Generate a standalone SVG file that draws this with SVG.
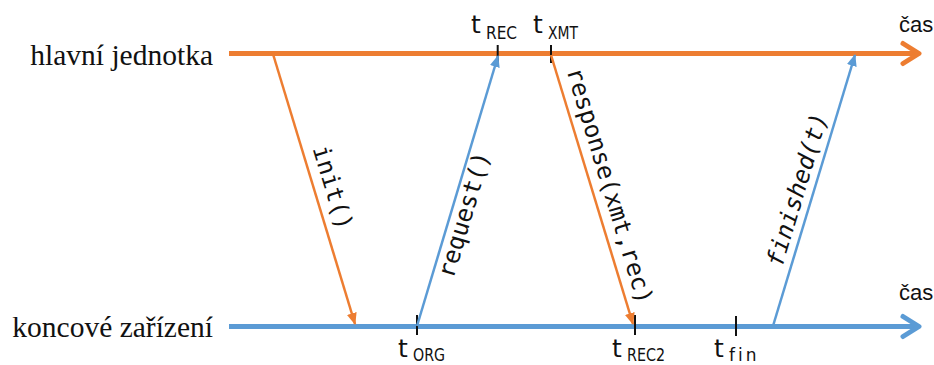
<svg xmlns="http://www.w3.org/2000/svg" width="934" height="365" viewBox="0 0 934 365">
<style>
.lbl{font-family:"Liberation Serif","Times New Roman",serif;font-size:29.5px;fill:#111;}
.cas{font-family:"Liberation Sans",Arial,sans-serif;font-size:22px;fill:#111;}
.t{font-family:"DejaVu Sans","Liberation Sans",sans-serif;font-size:25px;fill:#111;}
.sub{font-family:"DejaVu Sans","Liberation Sans",sans-serif;font-size:17px;fill:#111;}
.mono{font-family:"DejaVu Sans Mono","Liberation Mono",monospace;font-size:24px;fill:#111;}
.axisO{stroke:#ED7D31;stroke-width:5;fill:none;stroke-linecap:round;stroke-linejoin:round;}
.axisB{stroke:#5B9BD5;stroke-width:5;fill:none;stroke-linecap:round;stroke-linejoin:round;}
.msgO{stroke:#ED7D31;stroke-width:2.5;fill:none;}
.msgB{stroke:#5B9BD5;stroke-width:2.5;fill:none;}
.tick{stroke:#111;stroke-width:2;}
</style>
<defs>
<marker id="hO" viewBox="0 0 12 10" refX="11" refY="5" markerWidth="12" markerHeight="10" markerUnits="userSpaceOnUse" orient="auto"><path d="M0,0 L12,5 L0,10 z" fill="#ED7D31"/></marker>
<marker id="hB" viewBox="0 0 12 10" refX="11" refY="5" markerWidth="12" markerHeight="10" markerUnits="userSpaceOnUse" orient="auto"><path d="M0,0 L12,5 L0,10 z" fill="#5B9BD5"/></marker>
</defs>
<g id="master">
<text class="lbl" x="213" y="64.5" text-anchor="end">hlavní jednotka</text>
<line class="axisO" x1="229" y1="53.5" x2="918" y2="53.5" style="stroke-linecap:butt"/>
<path class="axisO" d="M903,43.5 L919,53.5 L903,63.5"/>
<text class="cas" x="899" y="32">čas</text>
</g>
<g id="device">
<text class="lbl" x="213" y="337" text-anchor="end">koncové zařízení</text>
<line class="axisB" x1="229" y1="326.5" x2="918" y2="326.5" style="stroke-linecap:butt"/>
<path class="axisB" d="M903,316.5 L919,326.5 L903,336.5"/>
<text class="cas" x="899" y="300">čas</text>
</g>
<g id="ticks">
<line class="tick" x1="497.7" y1="45" x2="497.7" y2="63"/>
<line class="tick" x1="551" y1="45" x2="551" y2="63"/>
<line class="tick" x1="417" y1="315" x2="417" y2="335"/>
<line class="tick" x1="635" y1="315" x2="635" y2="335"/>
<line class="tick" x1="736" y1="316" x2="736" y2="336"/>
</g>
<g id="t-rec"><text class="t" x="471" y="33">t</text><text class="sub" x="486" y="39" textLength="31" lengthAdjust="spacingAndGlyphs">REC</text></g>
<g id="t-xmt"><text class="t" x="533" y="33">t</text><text class="sub" x="548" y="39" textLength="30" lengthAdjust="spacingAndGlyphs">XMT</text></g>
<g id="t-org"><text class="t" x="398" y="357">t</text><text class="sub" x="413" y="361" textLength="32" lengthAdjust="spacingAndGlyphs">ORG</text></g>
<g id="t-rec2"><text class="t" x="612" y="357">t</text><text class="sub" x="627" y="361" textLength="38" lengthAdjust="spacingAndGlyphs">REC2</text></g>
<g id="t-fin"><text class="t" x="714" y="357">t</text><text class="sub" x="729" y="361" letter-spacing="3">fin</text></g>
<g id="connectors">
<line class="msgO" x1="273" y1="54" x2="355" y2="324" marker-end="url(#hO)"/>
<line class="msgB" x1="417" y1="326" x2="498" y2="56" marker-end="url(#hB)"/>
<line class="msgO" x1="551" y1="55" x2="633" y2="324" marker-end="url(#hO)"/>
<line class="msgB" x1="773" y1="326" x2="855" y2="55" marker-end="url(#hB)"/>
</g>
<g id="labels">
<text class="mono" transform="translate(332,188) rotate(73.1)" text-anchor="middle" dy="0.3em">init()</text>
<text class="mono" transform="translate(465,215) rotate(-73.4)" text-anchor="middle" dy="0.3em">request()</text>
<text class="mono" transform="translate(609,186) rotate(73.1)" text-anchor="middle" dy="0.3em">response(xmt,rec)</text>
<text class="mono" transform="translate(798,190) rotate(-73.2)" text-anchor="middle" dy="0.3em" font-style="italic">finished(t)</text>
</g>
</svg>
